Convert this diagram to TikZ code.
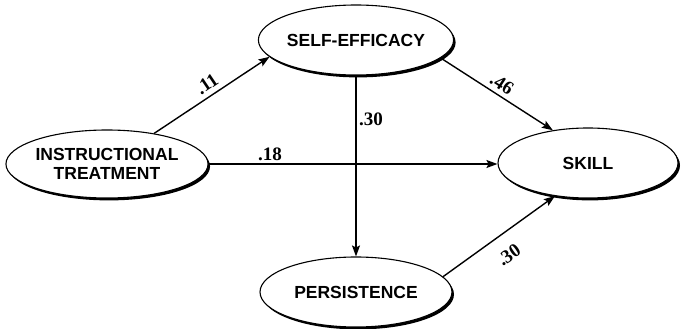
\documentclass[tikz,border=0pt]{standalone}
\usepackage{fontspec}
\setmainfont{Liberation Serif}
\setsansfont{Liberation Sans}
\usetikzlibrary{arrows.meta,shapes.geometric,shadows}
\begin{document}
\begin{tikzpicture}[x=1pt,y=-1pt,
  var/.style={ellipse,draw=black,line width=1.1pt,fill=white,inner sep=0pt,
    align=center,font=\sffamily\bfseries\fontsize{17.5}{19}\selectfont,
    general shadow={fill=black,shadow xshift=2pt,shadow yshift=-2.4pt}},
  path/.style={draw=black,line width=1.4pt,-{Stealth[length=11pt,width=8pt,inset=2pt]}},
  coef/.style={font=\rmfamily\bfseries\fontsize{19}{21}\selectfont,inner sep=0pt}]
\useasboundingbox (0,0) rectangle (681,329);
\node[var,minimum width=192pt,minimum height=68pt] (it) at (107,164) {INSTRUCTIONAL\\TREATMENT};
\node[var,minimum width=194pt,minimum height=70pt] (se) at (356,40) {SELF-EFFICACY};
\node[var,minimum width=192pt,minimum height=70pt] (pe) at (356,292) {PERSISTENCE};
\node[var,minimum width=180pt,minimum height=70pt] (sk) at (588,163) {SKILL};
\draw[path] (it.33) -- (se.191);
\draw[path] (it.east) -- (sk.west |- it.east);
\draw[path] (se.-12) -- (sk.137);
\draw[path] (se.south) -- (pe.north);
\draw[path] (pe.10) -- (sk.225);
\node[coef,rotate=34] (c1) at (207,84) {.11};
\node[coef] (c2) at (270,154) {.18};
\node[coef,rotate=-33] (c3) at (502,84) {.46};
\node[coef] (c4) at (371,119) {.30};
\node[coef,rotate=35] (c5) at (509,255) {.30};
\end{tikzpicture}
\end{document}
